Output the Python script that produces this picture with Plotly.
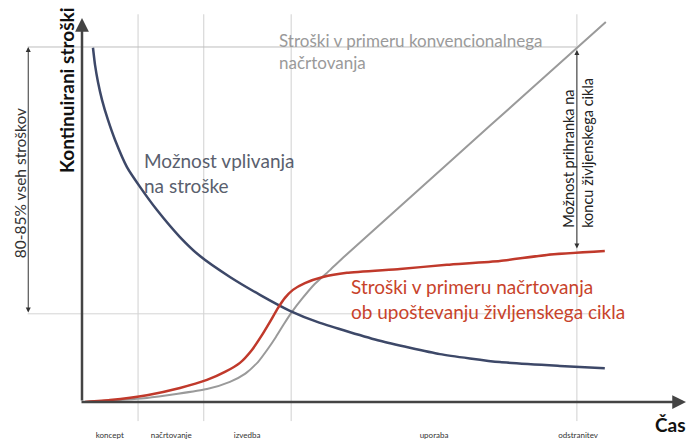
import plotly.graph_objects as go

# ---- data (x: time 0..100, y: cumulative cost 0..100) ----
phase_labels = ["koncept", "načrtovanje", "izvedba", "uporaba", "odstranitev"]
phase_label_x = [4.6, 14.8, 27.4, 58.4, 82.3]
phase_bounds = [9.3, 20.2, 34.7, 82.1]
share_levels = [93.4, 23.2]

influence_x = [1.82, 2.16, 2.65, 3.32, 4.31, 5.47, 7.46, 9.62, 12.44, 16.25, 19.57, 24.54,
               29.52, 34.49, 39.47, 49.42, 59.37, 69.32, 79.27, 86.73]
influence_y = [93.2, 88.7, 84.2, 79.5, 74.2, 69.0, 61.8, 56.6, 50.5, 43.4, 38.4, 32.9,
               28.2, 24.0, 20.8, 16.1, 12.6, 10.5, 9.5, 8.9]

lcc_x = [0.5, 4.64, 10.78, 16.25, 20.73, 23.71, 26.2, 28.19, 29.85, 31.18, 32.5, 33.67,
         34.99, 36.98, 39.97, 43.95, 52.74, 60.53, 69.32, 77.11, 86.73]
lcc_y = [0.0, 0.5, 1.8, 3.7, 5.8, 7.9, 10.3, 13.7, 17.6, 21.1, 24.7, 27.4,
         29.5, 31.3, 32.9, 34.0, 35.0, 36.1, 37.1, 38.7, 39.7]

conv_x = [0.5, 10.78, 20.73, 24.54, 27.03, 29.19, 30.85, 32.17, 33.5, 34.83, 36.48, 38.64,
          41.13, 43.62, 61.03, 74.3, 86.9]
conv_y = [0.0, 1.05, 3.4, 5.3, 7.4, 10.5, 14.0, 17.1, 20.5, 23.7, 27.1, 31.1,
          34.7, 38.4, 63.2, 82.1, 100.0]

saving_x = 82.1
saving_top = 92.6
saving_bottom = 40.0

FONT = "Lato"
AX = "#444444"

fig = go.Figure()

fig.add_trace(go.Scatter(x=conv_x, y=conv_y, mode="lines",
                         line=dict(color="#9a9a9a", width=2, shape="spline", smoothing=0.5),
                         hoverinfo="skip", showlegend=False, cliponaxis=False))
fig.add_trace(go.Scatter(x=influence_x, y=influence_y, mode="lines",
                         line=dict(color="#3d4868", width=2.5, shape="spline", smoothing=0.5),
                         hoverinfo="skip", showlegend=False, cliponaxis=False))
fig.add_trace(go.Scatter(x=lcc_x, y=lcc_y, mode="lines",
                         line=dict(color="#c0392b", width=2.5, shape="spline", smoothing=0.5),
                         hoverinfo="skip", showlegend=False, cliponaxis=False))

shapes = []
for b in phase_bounds:
    shapes.append(dict(type="line", xref="x", yref="paper", x0=b, x1=b, y0=-0.05, y1=1.015,
                       line=dict(color="#d0d0d0", width=1), layer="below"))
shapes.append(dict(type="line", xref="paper", yref="y", x0=-0.09, x1=0.818,
                   y0=share_levels[0], y1=share_levels[0],
                   line=dict(color="#bdbdbd", width=1), layer="below"))
shapes.append(dict(type="line", xref="paper", yref="y", x0=-0.09, x1=0.86,
                   y0=share_levels[1], y1=share_levels[1],
                   line=dict(color="#d4d4d4", width=1), layer="below"))

annotations = []
# axes arrows
annotations.append(dict(xref="paper", yref="paper", x=0, y=1.005, axref="pixel", ayref="pixel",
                        ax=0, ay=384, text="", showarrow=True, arrowhead=2, arrowsize=1.1,
                        arrowwidth=2.5, arrowcolor=AX, standoff=0))
annotations.append(dict(xref="paper", yref="paper", x=1.0, y=0, axref="pixel", ayref="pixel",
                        ax=-606, ay=0, text="", showarrow=True, arrowhead=2, arrowsize=1.1,
                        arrowwidth=2.5, arrowcolor=AX, standoff=0))
# left double arrow (80-85%)
annotations.append(dict(xref="paper", yref="y", x=-0.089, y=share_levels[0], axref="pixel", ayref="pixel",
                        ax=0, ay=267, text="", showarrow=True, arrowhead=2, arrowside="end+start",
                        arrowsize=1, arrowwidth=1, arrowcolor="#333333", standoff=0, startstandoff=0))
# right double arrow (saving)
annotations.append(dict(xref="x", yref="y", x=saving_x, y=saving_top, axref="x", ayref="y",
                        ax=saving_x, ay=saving_bottom, text="", showarrow=True, arrowhead=2,
                        arrowside="end+start", arrowsize=1, arrowwidth=1, arrowcolor="#333333",
                        standoff=0, startstandoff=0))
# texts
annotations.append(dict(xref="paper", yref="paper", x=-0.1026, y=0.573, xanchor="center", yanchor="middle",
                        text="80-85% vseh stroškov",
                        textangle=-90, showarrow=False, font=dict(family=FONT, size=15.5, color="#333333")))
annotations.append(dict(xref="paper", yref="paper", x=-0.0248, y=0.8168, xanchor="center", yanchor="middle",
                        text="<b>Kontinuirani stroški</b>",
                        textangle=-90, showarrow=False, font=dict(family=FONT, size=19, color="#111111")))
annotations.append(dict(xref="paper", yref="paper", x=0.975, y=-0.06, xanchor="center", yanchor="middle",
                        text="<b>Čas</b>",
                        showarrow=False, font=dict(family=FONT, size=19, color="#111111")))
annotations.append(dict(xref="x", yref="y", x=32.3, y=92.2, xanchor="left", yanchor="middle", align="left",
                        text="Stroški v primeru konvencionalnega<br>načrtovanja", showarrow=False,
                        font=dict(family=FONT, size=17, color="#9a9a9a")))
annotations.append(dict(xref="x", yref="y", x=9.95, y=60.3, xanchor="left", yanchor="middle", align="left",
                        text="Možnost vplivanja<br>na stroške", showarrow=False,
                        font=dict(family=FONT, size=19, color="#5a5f6e")))
annotations.append(dict(xref="x", yref="y", x=44.3, y=27.0, xanchor="left", yanchor="middle", align="left",
                        text="Stroški v primeru načrtovanja<br>ob upoštevanju življenskega cikla", showarrow=False,
                        font=dict(family=FONT, size=19, color="#c8432b")))
annotations.append(dict(xref="x", yref="y", x=82.25, y=65.5, xanchor="center", yanchor="middle", align="left",
                        text="Možnost prihranka na<br>koncu življenskega cikla", textangle=-90, showarrow=False,
                        font=dict(family=FONT, size=14.5, color="#222222")))

# the page body has an 8px margin, so the figure is 8px smaller on each side
fig.update_layout(
    width=686, height=433,
    margin=dict(l=74, r=8, t=12, b=39, autoexpand=False),
    paper_bgcolor="white", plot_bgcolor="white",
    shapes=shapes, annotations=annotations,
    xaxis=dict(range=[0, 100.2], showgrid=False, zeroline=False, showline=False, automargin=False,
               tickmode="array", tickvals=phase_label_x, ticktext=phase_labels, ticks="",
               ticklabelstandoff=27, tickfont=dict(family=FONT, size=8, color="#333333")),
    yaxis=dict(range=[0, 100.5], showgrid=False, zeroline=False, showline=False, automargin=False,
               showticklabels=False, ticks=""),
)

fig.write_html("out.html")
